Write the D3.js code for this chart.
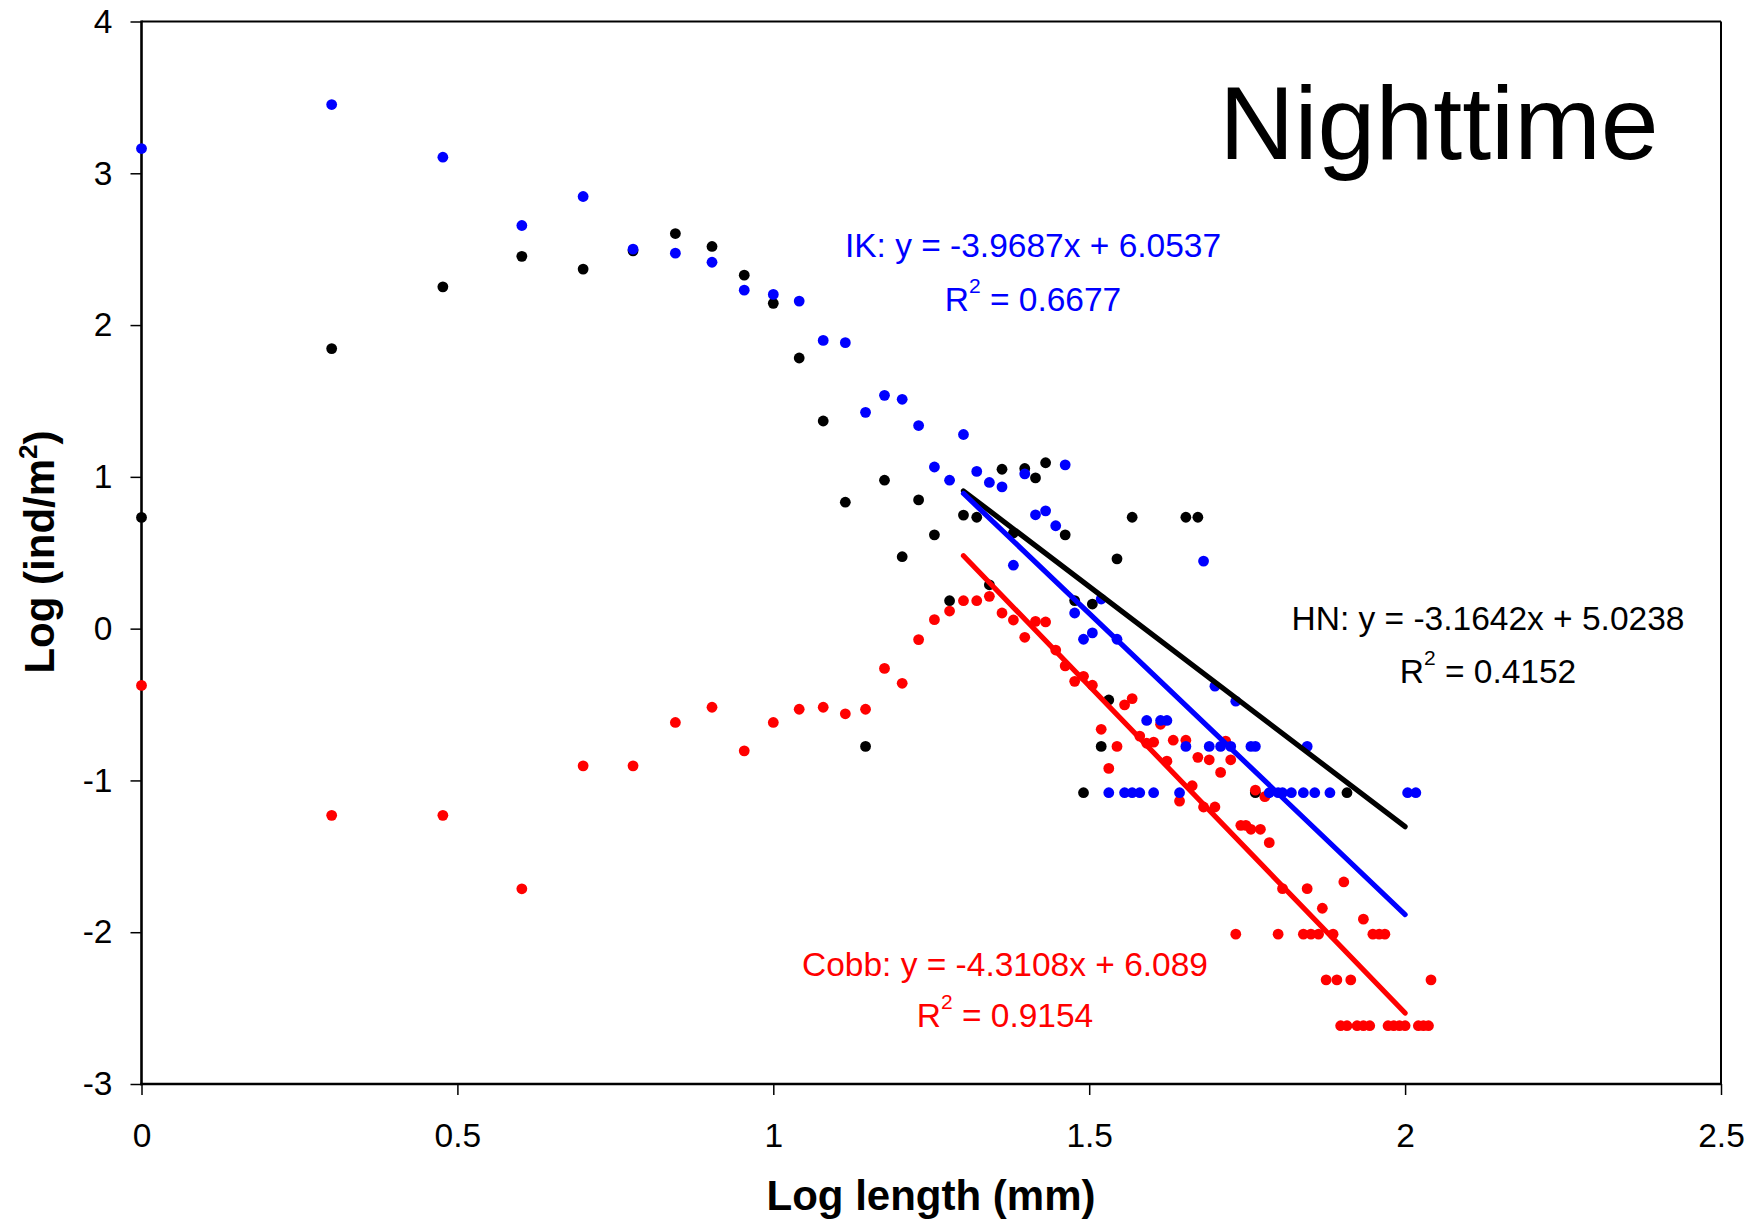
<!DOCTYPE html>
<html>
<head>
<meta charset="utf-8">
<script src="https://cdn.jsdelivr.net/npm/d3@7"></script>
<style>
  html, body { margin: 0; padding: 0; background: #fff; }
  svg { display: block; font-family: "Liberation Sans", Arial, sans-serif; }
</style>
</head>
<body>
<svg id="chart" width="1761" height="1222"></svg>
<script>
// ---- data (x = log length, y = log density) ----
const xTicks = [0, 0.5, 1, 1.5, 2, 2.5];
const yTicks = [-3, -2, -1, 0, 1, 2, 3, 4];

const hnPoints = [
  [0,0.733],[0.301,1.845],[0.477,2.252],[0.602,2.453],[0.699,2.369],[0.778,2.489],[0.845,2.603],
  [0.903,2.518],[0.954,2.329],[1,2.143],[1.041,1.783],[1.079,1.368],[1.114,0.833],[1.146,-0.776],
  [1.176,0.978],[1.204,0.474],[1.230,0.848],[1.255,0.618],[1.279,0.184],[1.301,0.748],[1.322,0.734],
  [1.342,0.289],[1.362,1.050],[1.380,0.630],[1.398,1.055],[1.415,0.993],[1.431,1.093],[1.462,0.618],
  [1.477,0.185],[1.491,-1.081],[1.505,0.162],[1.519,-0.776],[1.531,-0.470],[1.544,0.460],[1.568,0.734],
  [1.653,0.734],[1.672,0.734],[1.763,-1.081],[1.908,-1.081]
];

const ikPoints = [
  [0,3.163],[0.301,3.453],[0.477,3.106],[0.602,2.656],[0.699,2.847],[0.778,2.500],[0.845,2.474],
  [0.903,2.414],[0.954,2.230],[1,2.202],[1.041,2.158],[1.079,1.899],[1.114,1.884],[1.146,1.425],
  [1.176,1.537],[1.204,1.511],[1.230,1.338],[1.255,1.065],[1.279,0.978],[1.301,1.279],[1.322,1.036],
  [1.342,0.963],[1.362,0.934],[1.380,0.418],[1.398,1.020],[1.415,0.750],[1.431,0.776],[1.447,0.678],
  [1.462,1.079],[1.477,0.103],[1.491,-0.070],[1.505,-0.028],[1.519,0.195],[1.531,-1.081],[1.544,-0.070],
  [1.556,-1.081],[1.568,-1.081],[1.580,-1.081],[1.591,-0.605],[1.602,-1.081],[1.613,-0.605],[1.623,-0.605],
  [1.643,-1.081],[1.653,-0.776],[1.681,0.445],[1.690,-0.776],[1.699,-0.379],[1.708,-0.776],[1.724,-0.776],
  [1.732,-0.478],[1.756,-0.776],[1.763,-0.776],[1.785,-1.081],[1.799,-1.081],[1.806,-1.081],[1.820,-1.081],
  [1.839,-1.081],[1.845,-0.776],[1.857,-1.081],[1.881,-1.081],[2.004,-1.081],[2.017,-1.081]
];

const cobbPoints = [
  [0,-0.374],[0.301,-1.230],[0.477,-1.230],[0.602,-1.714],[0.699,-0.904],[0.778,-0.904],[0.845,-0.618],
  [0.903,-0.518],[0.954,-0.805],[1,-0.618],[1.041,-0.531],[1.079,-0.518],[1.114,-0.561],[1.146,-0.531],
  [1.176,-0.262],[1.204,-0.360],[1.230,-0.072],[1.255,0.059],[1.279,0.116],[1.301,0.184],[1.322,0.184],
  [1.342,0.213],[1.362,0.103],[1.380,0.057],[1.398,-0.057],[1.415,0.048],[1.431,0.044],[1.447,-0.141],
  [1.462,-0.245],[1.477,-0.347],[1.491,-0.314],[1.505,-0.373],[1.519,-0.663],[1.531,-0.921],[1.544,-0.776],
  [1.556,-0.502],[1.568,-0.461],[1.580,-0.708],[1.591,-0.755],[1.602,-0.748],[1.613,-0.630],[1.623,-0.873],
  [1.633,-0.735],[1.643,-1.136],[1.653,-0.735],[1.663,-1.035],[1.672,-0.848],[1.681,-1.175],[1.690,-0.864],
  [1.699,-1.175],[1.708,-0.947],[1.716,-0.741],[1.724,-0.864],[1.732,-2.013],[1.740,-1.296],[1.748,-1.296],
  [1.756,-1.322],[1.763,-1.064],[1.771,-1.322],[1.778,-1.107],[1.785,-1.410],[1.799,-2.013],[1.806,-1.713],
  [1.839,-2.013],[1.845,-1.713],[1.851,-2.013],[1.863,-2.013],[1.869,-1.842],[1.875,-2.314],[1.886,-2.013],
  [1.892,-2.314],[1.898,-2.616],[1.903,-1.669],[1.908,-2.616],[1.914,-2.314],[1.924,-2.616],[1.934,-2.616],
  [1.934,-1.914],[1.944,-2.616],[1.949,-2.013],[1.959,-2.013],[1.968,-2.013],[1.973,-2.616],[1.982,-2.616],
  [1.991,-2.616],[2,-2.616],[2.021,-2.616],[2.029,-2.616],[2.037,-2.616],[2.041,-2.314]
];

// regression lines: slope, intercept, fitted range
const hnFit = { slope: -3.1642, intercept: 5.0238, from: 1.301, to: 2 };
const ikFit = { slope: -3.9687, intercept: 6.0537, from: 1.301, to: 2 };
const cobbFit = { slope: -4.3108, intercept: 6.089, from: 1.301, to: 2 };

const labels = {
  ik: ["IK: y = -3.9687x + 6.0537", " = 0.6677"],
  hn: ["HN: y = -3.1642x + 5.0238", " = 0.4152"],
  cobb: ["Cobb: y = -4.3108x + 6.089", " = 0.9154"]
};

// ---- drawing ----
const svg = d3.select("#chart");
const L = 141.5, R = 1721, T = 21.5, B = 1084;
const x = d3.scaleLinear().domain([0, 2.5]).range([L, R]);
const y = d3.scaleLinear().domain([-3, 4]).range([B, T]);

svg.append("rect").attr("width", 1761).attr("height", 1222).attr("fill", "#fff");

// axes
const yAxis = d3.axisLeft(y).tickValues(yTicks).tickSize(11).tickPadding(18).tickFormat(d => String(d));
const gy = svg.append("g").attr("transform", `translate(${L},0)`).call(yAxis);
const xAxis = d3.axisBottom(x).tickValues(xTicks).tickSize(11).tickPadding(28).tickFormat(d => String(d));
const gx = svg.append("g").attr("transform", `translate(0,${B})`).call(xAxis);
[gx, gy].forEach(g => {
  g.select(".domain").remove();
  g.selectAll(".tick line").attr("stroke", "#000").attr("stroke-width", 1.5);
  g.selectAll(".tick text").attr("fill", "#000").attr("font-size", 33.5)
    .attr("font-family", "Liberation Sans, Arial, sans-serif");
});

// frame
svg.append("line").attr("x1", L).attr("x2", R).attr("y1", T).attr("y2", T).attr("stroke", "#000").attr("stroke-width", 2);
svg.append("line").attr("x1", R).attr("x2", R).attr("y1", T).attr("y2", B).attr("stroke", "#000").attr("stroke-width", 2);
svg.append("line").attr("x1", L).attr("x2", L).attr("y1", T - 1).attr("y2", B + 1.2).attr("stroke", "#000").attr("stroke-width", 2.6);
svg.append("line").attr("x1", L - 1.2).attr("x2", R + 1).attr("y1", B).attr("y2", B).attr("stroke", "#000").attr("stroke-width", 2.6);

// points
function drawPoints(data, color) {
  svg.append("g").selectAll("circle").data(data).join("circle")
    .attr("cx", d => x(d[0])).attr("cy", d => y(d[1])).attr("r", 5.4).attr("fill", color);
}
drawPoints(hnPoints, "#000000");
drawPoints(cobbPoints, "#FF0000");
drawPoints(ikPoints, "#0000FF");

// trend lines
const line = d3.line().x(d => x(d[0])).y(d => y(d[1]));
function drawFit(f, color) {
  const pts = [f.from, f.to].map(v => [v, f.slope * v + f.intercept]);
  svg.append("path").attr("d", line(pts)).attr("fill", "none").attr("stroke", color)
    .attr("stroke-width", 5.2).attr("stroke-linecap", "round");
}
drawFit(hnFit, "#000000");
drawFit(ikFit, "#0000FF");
drawFit(cobbFit, "#FF0000");

// equation labels
function eqLabel(lines, cx, y1, y2, color) {
  svg.append("text").attr("x", cx).attr("y", y1).attr("text-anchor", "middle")
    .attr("font-size", 33.5).attr("fill", color).text(lines[0]);
  const t = svg.append("text").attr("x", cx).attr("y", y2).attr("text-anchor", "middle")
    .attr("font-size", 33.5).attr("fill", color);
  t.append("tspan").text("R");
  t.append("tspan").attr("dy", -18).attr("font-size", 21).text("2");
  t.append("tspan").attr("dy", 18).text(lines[1]);
}
eqLabel(labels.ik, 1033, 257, 311, "#0000FF");
eqLabel(labels.hn, 1488, 630, 683, "#000000");
eqLabel(labels.cobb, 1005, 976, 1027, "#FF0000");

// title
svg.append("text").attr("x", 1439).attr("y", 159).attr("text-anchor", "middle")
  .attr("font-size", 104).attr("fill", "#000").text("Nighttime");

// axis titles
svg.append("text").attr("x", 931).attr("y", 1210).attr("text-anchor", "middle")
  .attr("font-size", 42).attr("font-weight", "bold").attr("fill", "#000").text("Log length (mm)");
const yt = svg.append("text").attr("transform", "translate(54,552) rotate(-90)").attr("text-anchor", "middle")
  .attr("font-size", 42).attr("font-weight", "bold").attr("fill", "#000");
yt.append("tspan").text("Log (ind/m");
yt.append("tspan").attr("dy", -17).attr("font-size", 26).text("2");
yt.append("tspan").attr("dy", 17).text(")");
</script>
</body>
</html>
